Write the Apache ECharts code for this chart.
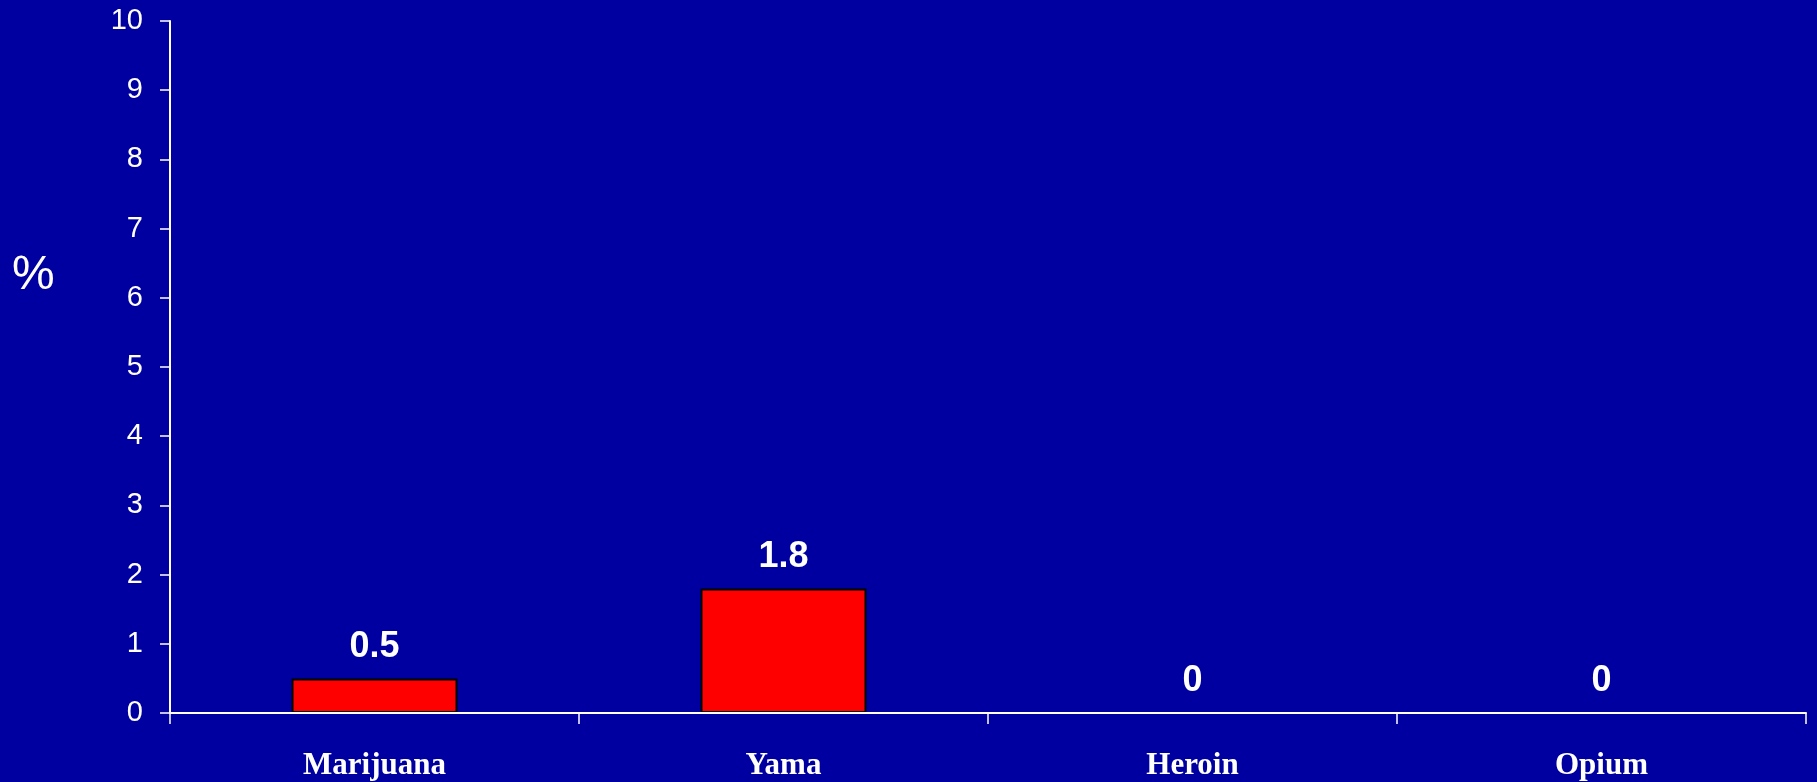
<!DOCTYPE html>
<html>
<head>
<meta charset="utf-8">
<script src="https://cdn.jsdelivr.net/npm/echarts@6/dist/echarts.min.js"></script>
<style>
html,body{margin:0;padding:0;background:#0000a0;}
#c{width:1817px;height:782px;}
</style>
</head>
<body>
<div id="c"></div>
<script>
var categories = ['Marijuana', 'Yama', 'Heroin', 'Opium'];
var values = [0.5, 1.8, 0, 0];
var yTicks = [0, 1, 2, 3, 4, 5, 6, 7, 8, 9, 10];

var chart = echarts.init(document.getElementById('c'));
chart.setOption({
  backgroundColor: '#0000a0',
  animation: false,
  grid: { left: 170, top: 21, right: 11, bottom: 69 },
  graphic: [{
    type: 'text', left: 12, top: 252,
    style: { text: '%', fill: '#ffffff', font: '48px Arial, "Liberation Sans", sans-serif' }
  }],
  xAxis: {
    type: 'category',
    data: categories,
    z: 5,
    axisLine: { lineStyle: { color: '#ffffff', width: 2 } },
    axisTick: { show: true, length: 11, lineStyle: { color: '#ffffff', width: 1.5 } },
    axisLabel: {
      color: '#ffffff', fontFamily: '"Liberation Serif", "Times New Roman", serif',
      fontWeight: 'bold', fontSize: 31, margin: 37
    },
    splitLine: { show: false }
  },
  yAxis: {
    type: 'value', min: yTicks[0], max: yTicks[yTicks.length - 1], interval: 1,
    z: 5,
    axisLine: { show: true, lineStyle: { color: '#ffffff', width: 2 } },
    axisTick: { show: true, length: 10, lineStyle: { color: '#ffffff', width: 1.5 } },
    axisLabel: {
      color: '#ffffff', fontFamily: 'Arial, "Liberation Sans", sans-serif',
      fontSize: 29, margin: 27
    },
    splitLine: { show: false }
  },
  series: [{
    type: 'bar',
    data: values,
    barWidth: 166,
    z: 2,
    itemStyle: { color: '#ff0000', borderColor: '#000000', borderWidth: 2 },
    label: {
      show: true, position: 'top', distance: 13,
      color: '#ffffff', fontFamily: 'Arial, "Liberation Sans", sans-serif',
      fontWeight: 'bold', fontSize: 36
    }
  }]
});
</script>
</body>
</html>
